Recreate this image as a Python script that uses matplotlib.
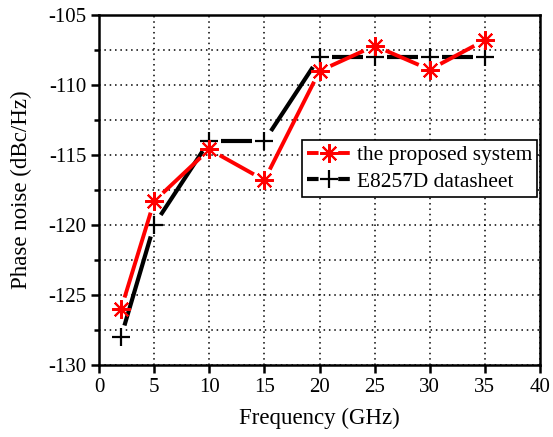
import matplotlib
matplotlib.use("Agg")
import matplotlib.pyplot as plt
import numpy as np
from matplotlib.ticker import MultipleLocator
from matplotlib.lines import Line2D

plt.rcParams['font.family'] = ['Liberation Serif', 'DejaVu Serif']

freq = [2, 5, 10, 15, 20, 25, 30, 35]
proposed = [-126.0, -118.3, -114.6, -116.8, -109.0, -107.2, -108.9, -106.8]
datasheet = [-128.0, -120.0, -114.0, -114.0, -108.0, -108.0, -108.0, -108.0]
labels = ['the proposed system', 'E8257D datasheet']

fig = plt.figure(figsize=(5.53, 4.37), dpi=100)
ax = fig.add_axes([99/553, (437-365)/437, 441/553, 350/437])
ax.set_xlim(0, 40)
ax.set_ylim(-130, -105)


def gapped_line(ax, x, y, gap_px, **kw):
    """Draw line segments between points, leaving a gap around each point."""
    pts = ax.transData.transform(np.column_stack([x, y]))
    inv = ax.transData.inverted()
    for p0, p1 in zip(pts[:-1], pts[1:]):
        d = p1 - p0
        L = np.hypot(*d)
        u = d / L
        seg = inv.transform(np.array([p0 + u * gap_px, p1 - u * gap_px]))
        ax.plot(seg[:, 0], seg[:, 1], solid_capstyle='butt', **kw)


gapped_line(ax, freq, datasheet, 12, color='black', lw=3.0, zorder=2)
ax.plot(freq, datasheet, ls='none', color='black', marker='+', ms=12.5, mew=1.6, zorder=3)
gapped_line(ax, freq, proposed, 12, color='red', lw=2.8, zorder=4)
ax.plot(freq, proposed, ls='none', color='red', marker=(8, 2, 0), ms=13.5, mew=1.5, zorder=5)

ax.xaxis.set_major_locator(MultipleLocator(5))
ax.yaxis.set_major_locator(MultipleLocator(5))
ax.yaxis.set_minor_locator(MultipleLocator(2.5))
ax.grid(True, which='major', axis='x', linestyle=(0, (1, 2.5)), color='black', lw=1.1)
ax.grid(True, which='both', axis='y', linestyle=(0, (1, 2.5)), color='black', lw=1.1)
ax.tick_params(which='major', direction='out', length=6, width=1.8, labelsize=15, pad=3)
ax.tick_params(which='minor', direction='out', length=3.5, width=1.8)
for s in ax.spines.values():
    s.set_linewidth(1.8)
ax.set_xticks(range(0, 41, 5))
ax.set_xticklabels([str(v) for v in range(0, 41, 5)])
ax.set_yticks(range(-130, -104, 5))
ax.set_yticklabels(['-' + str(abs(v)) for v in range(-130, -104, 5)])

ax.set_xlabel('Frequency (GHz)', fontsize=16.5, labelpad=8)
ax.set_ylabel('Phase noise (dBc/Hz)', fontsize=16.5, labelpad=12)

fs = 15.4
h_len = 2.0
lw_r, lw_b = 2.8, 3.0
hp = h_len * fs  # handle length in points
dash_pt, gap_pt = 0.27 * hp, 0.46 * hp
h_red = Line2D([], [], color='red', lw=lw_r, marker=(8, 2, 0), ms=13.5, mew=1.5,
               dashes=(dash_pt / lw_r, gap_pt / lw_r), dash_capstyle='butt')
h_blk = Line2D([], [], color='black', lw=lw_b, marker='+', ms=12.5, mew=1.6,
               dashes=(dash_pt / lw_b, gap_pt / lw_b), dash_capstyle='butt')
leg = ax.legend([h_red, h_blk], labels, loc='upper left',
                bbox_to_anchor=((302 - 99) / 441, (365 - 140) / 350), fontsize=fs,
                frameon=True, fancybox=False, edgecolor='black', handlelength=h_len,
                numpoints=1, borderpad=0.25, labelspacing=0.3, handletextpad=0.3,
                borderaxespad=0, framealpha=1)
leg.get_frame().set_linewidth(1.2)
leg.set_zorder(10)

fig.savefig('out.png', dpi=100)
